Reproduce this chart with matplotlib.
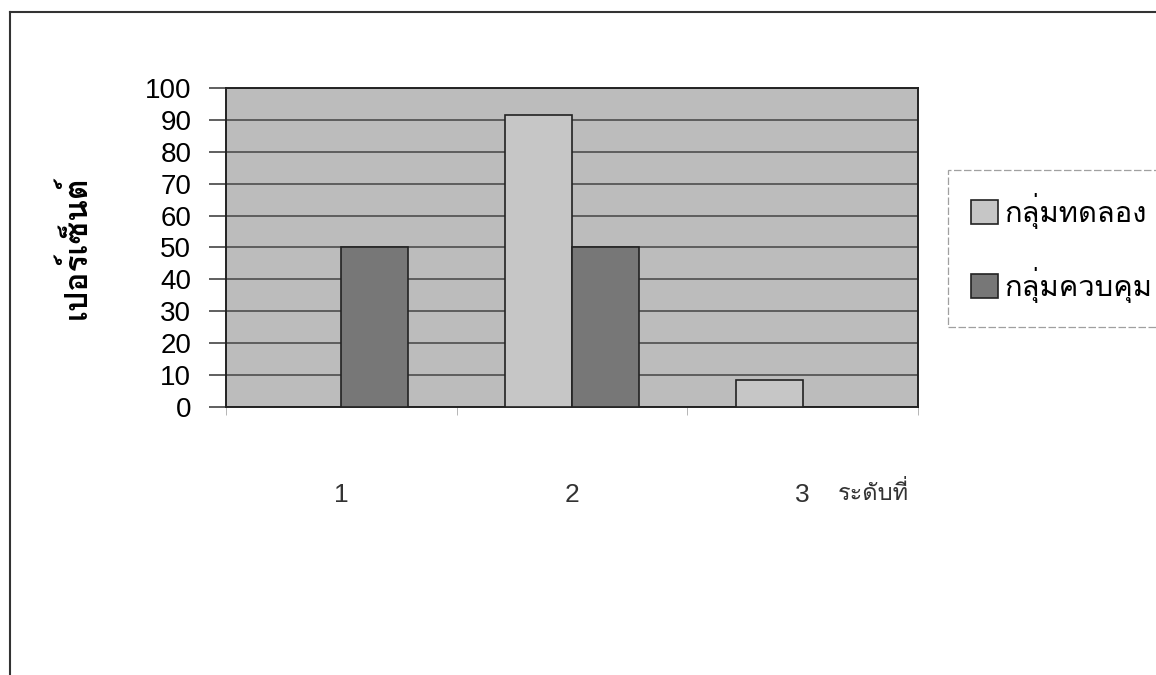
import matplotlib
matplotlib.use('Agg')
import matplotlib.pyplot as plt
from matplotlib import font_manager, ft2font
from matplotlib.lines import Line2D
import numpy as np

# ข้อมูลจากกราฟ
levels = ['1', '2', '3']
exp_values = [0, 91.67, 8.33]      # กลุ่มทดลอง
ctrl_values = [50, 50, 0]          # กลุ่มควบคุม
series_names = ['กลุ่มทดลอง', 'กลุ่มควบคุม']
y_ticks = list(range(0, 101, 10))


def find_thai_font():
    # ใช้ Loma ถ้ามี ไม่งั้นหาฟอนต์ที่มีอักษรไทย
    names = [f.name for f in font_manager.fontManager.ttflist]
    if 'Loma' in names:
        return 'Loma'
    for f in font_manager.fontManager.ttflist:
        try:
            cmap = ft2font.FT2Font(f.fname).get_charmap()
        except Exception:
            continue
        if 0x0E01 in cmap:
            return f.name
    return 'DejaVu Sans'


thai = find_thai_font()
plt.rcParams['font.family'] = [thai, 'Liberation Sans', 'DejaVu Sans']
num_font = ['Liberation Sans', 'DejaVu Sans']

fig = plt.figure(figsize=(11.56, 6.75), dpi=100)
ax = fig.add_axes([226 / 1156, 1 - 407 / 675, 692 / 1156, 319 / 675])
ax.set_facecolor('#bcbcbc')

x = np.arange(len(levels))
w = 0.29
ax.bar(x - w / 2, exp_values, w, color='#c6c6c6', edgecolor='#222222', lw=1.2,
       label=series_names[0], zorder=3)
ax.bar(x + w / 2, ctrl_values, w, color='#777777', edgecolor='#222222', lw=1.2,
       label=series_names[1], zorder=3)

ax.set_xlim(-0.5, 2.5)
ax.set_ylim(0, 100)
ax.set_yticks(y_ticks)
ax.yaxis.grid(True, color='#555555', lw=1.3, zorder=1)
ax.set_axisbelow(True)
ax.tick_params(axis='y', labelsize=20, length=12, width=1.2, color='#444444', pad=13)
for lab in ax.get_yticklabels():
    lab.set_family(num_font)

ax.set_xticks(x)
ax.set_xticklabels(levels, fontsize=19, color='#333333', family=num_font)
ax.tick_params(axis='x', which='major', length=0, pad=55)
ax.set_xticks([-0.5, 0.5, 1.5, 2.5], minor=True)
ax.tick_params(axis='x', which='minor', length=6, color='#aaaaaa')
for s in ax.spines.values():
    s.set_color('#222222')
    s.set_linewidth(1.4)

ax.set_ylabel('เปอร์เซ็นต์', fontsize=23, fontweight='bold')
ax.yaxis.set_label_coords(-134 / 692, 0.5)
fig.text(838 / 1156, 1 - 493 / 675, 'ระดับที่', fontsize=17, va='center', color='#333333')

leg = fig.legend(loc='upper left', bbox_to_anchor=(948 / 1156, 1 - 170 / 675),
                 borderaxespad=0, fontsize=21, frameon=True, fancybox=False,
                 labelspacing=1.3, handlelength=0.9, handleheight=0.9,
                 borderpad=0.8, handletextpad=0.25)
leg.get_frame().set_edgecolor('#888888')
leg.get_frame().set_linewidth(0.9)
leg.get_frame().set_linestyle((0, (6, 2)))

# กรอบรอบนอก
fig.add_artist(Line2D([10 / 1156, 10 / 1156], [0, 1 - 12 / 675], color='#333333', lw=1.5))
fig.add_artist(Line2D([10 / 1156, 1], [1 - 12 / 675, 1 - 12 / 675], color='#333333', lw=1.5))

fig.savefig('out.png', dpi=100)
